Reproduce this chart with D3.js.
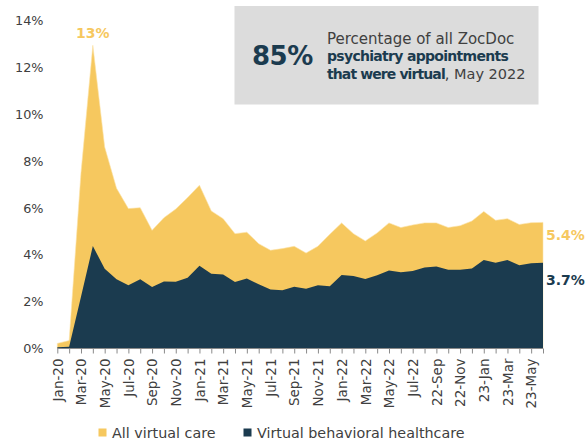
<!DOCTYPE html>
<html><head><meta charset="utf-8">
<script src="https://cdn.jsdelivr.net/npm/d3@7"></script>
<style>body{margin:0;background:#fff;}svg{display:block;font-family:"DejaVu Sans",sans-serif;}</style>
</head><body><svg id="c" width="585" height="442"></svg>
<script>
const months = ["2020-01","2020-02","2020-03","2020-04","2020-05","2020-06","2020-07","2020-08","2020-09","2020-10","2020-11","2020-12",
"2021-01","2021-02","2021-03","2021-04","2021-05","2021-06","2021-07","2021-08","2021-09","2021-10","2021-11","2021-12",
"2022-01","2022-02","2022-03","2022-04","2022-05","2022-06","2022-07","2022-08","2022-09","2022-10","2022-11","2022-12",
"2023-01","2023-02","2023-03","2023-04","2023-05","2023-06"];
const tickLabels = ["Jan-20","Mar-20","May-20","Jul-20","Sep-20","Nov-20","Jan-21","Mar-21","May-21","Jul-21","Sep-21","Nov-21",
"Jan-22","Mar-22","May-22","Jul-22","22-Sep","22-Nov","23-Jan","23-Mar","23-May"];
const allVirtual = [0.21,0.33,7.5,12.95,8.6,6.84,5.97,6.01,5.04,5.58,5.95,6.44,6.97,5.87,5.54,4.9,4.96,4.47,4.19,4.26,4.36,4.07,4.36,4.87,5.36,4.9,4.59,4.93,5.36,5.16,5.27,5.36,5.36,5.16,5.24,5.44,5.85,5.47,5.54,5.29,5.37,5.38];
const behavioral = [0.05,0.07,2.2,4.37,3.4,2.95,2.69,2.95,2.62,2.86,2.84,3.02,3.53,3.19,3.15,2.83,2.98,2.74,2.51,2.48,2.63,2.54,2.69,2.65,3.13,3.09,2.96,3.12,3.33,3.25,3.3,3.45,3.5,3.36,3.36,3.41,3.77,3.66,3.77,3.55,3.63,3.66];
const yTicks = [0,2,4,6,8,10,12,14];
const seriesNames = ["All virtual care","Virtual behavioral healthcare"];
const peakLabel = "13%", endLabels = ["5.4%","3.7%"];

const YELLOW = "#F6C85F", NAVY = "#1B3B4F";
const svg = d3.select("#c");
const x = d3.scalePoint().domain(months).range([57.3, 543]);
const y = d3.scaleLinear().domain([0,14]).range([348.3, 20.7]);

// areas (overlapping, not stacked)
const area = d3.area().x((d,i)=>x(months[i])).y0(y(0)).y1(d=>y(d));
svg.append("path").datum(allVirtual).attr("d", area).attr("fill", YELLOW).attr("stroke","#fbe3a8").attr("stroke-width",0.6);
svg.append("path").datum(behavioral).attr("d", area).attr("fill", NAVY);

// y axis labels
const yAxis = d3.axisLeft(y).tickValues(yTicks).tickFormat(d=>d+"%").tickSize(0).tickPadding(0);
const gy = svg.append("g").attr("transform","translate(43.5,0)").call(yAxis);
gy.select(".domain").remove();
gy.selectAll("text").attr("font-size","12.8px").attr("fill","#404040").attr("font-family","DejaVu Sans");

// x axis
const xAxis = d3.axisBottom(x).tickSize(5).tickFormat((d,i)=> i%2===0 ? tickLabels[i/2] : "");
const gx = svg.append("g").attr("transform","translate(0,348.5)").call(xAxis);
gx.select(".domain").attr("stroke","#8a8a8a").attr("d","M57.3,0H543");
gx.selectAll(".tick line").attr("stroke","#8a8a8a");
gx.selectAll("text").attr("transform","rotate(-90)").attr("text-anchor","end")
  .attr("x",-10).attr("y",0).attr("dy","0.35em").attr("font-size","13.5px").attr("fill","#404040").attr("font-family","DejaVu Sans");

// annotations
svg.append("text").attr("x", x(months[3])).attr("y", y(12.95)-7.5).attr("text-anchor","middle")
  .attr("font-size","14px").attr("font-weight","bold").attr("fill", YELLOW).text(peakLabel);
svg.append("text").attr("x", 546).attr("y", 240).attr("font-size","14px").attr("font-weight","bold").attr("fill", YELLOW)
  .text(endLabels[0]);
svg.append("text").attr("x", 546).attr("y", 284.5).attr("font-size","14px").attr("font-weight","bold").attr("fill", NAVY)
  .text(endLabels[1]);

// callout box
svg.append("rect").attr("x",234.5).attr("y",6).attr("width",304).attr("height",98.5).attr("fill","#DCDCDC");
svg.append("text").attr("x",252).attr("y",65).attr("font-size","26px").attr("font-weight","bold").attr("fill",NAVY)
  .attr("letter-spacing","-0.5px").text("85%");
const g = svg.append("g").attr("font-size","15px").attr("fill","#404040");
g.append("text").attr("x",327).attr("y",43.5).text("Percentage of all ZocDoc");
g.append("text").attr("x",327).attr("y",61).attr("font-weight","bold").attr("fill",NAVY)
  .attr("font-size","14px").attr("letter-spacing","-0.7px").text("psychiatry appointments");
const t3 = g.append("text").attr("x",327).attr("y",78.5);
t3.append("tspan").attr("font-weight","bold").attr("fill",NAVY).attr("font-size","14px").attr("letter-spacing","-0.9px").text("that were virtual");
t3.append("tspan").attr("font-size","14.5px").text(", May 2022");

// legend
const leg = svg.append("g");
const legItems = [{name:seriesNames[0], color:YELLOW, x:98.5},{name:seriesNames[1], color:NAVY, x:243.5}];
legItems.forEach(it=>{
  leg.append("rect").attr("x",it.x).attr("y",428.5).attr("width",8).attr("height",8).attr("fill",it.color);
  leg.append("text").attr("x",it.x+13.5).attr("y",437.5).attr("font-size","14.3px").attr("fill","#404040").text(it.name);
});
</script></body></html>
